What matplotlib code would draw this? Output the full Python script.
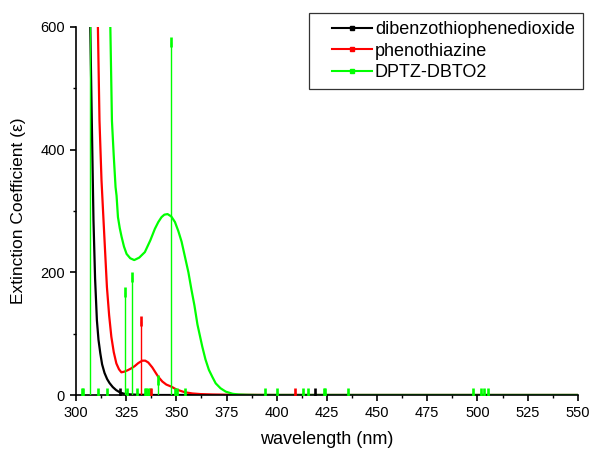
import matplotlib
matplotlib.use("Agg")
import matplotlib.pyplot as plt
from matplotlib.ticker import MultipleLocator
from matplotlib.lines import Line2D
from matplotlib.legend_handler import HandlerLine2D

plt.rcParams['font.family'] = ['Liberation Sans', 'DejaVu Sans']

# Broadened spectra (wavelength nm, extinction coefficient)
black_wl = [306.5, 307.1, 308.0, 308.7, 309.5, 310.4, 311.2, 312.1, 313.0, 314.2, 315.5,
            316.7, 318.3, 320.0, 322.0, 324.0, 327.0, 330.0, 340.0, 550.0]
black_val = [700, 600, 420, 285, 190, 122, 90, 68, 50, 36, 26,
             19.5, 13, 8, 4, 2, 1, 0.5, 0, 0]

red_wl = [310.5, 310.9, 311.7, 312.7, 313.7, 315.4, 316.5, 317.6, 318.8, 320.1, 321.4,
          322.6, 324.0, 325.5, 327.3, 329.2, 331.0, 333.0, 334.5, 336.0, 338.0, 340.9,
          343.0, 345.0, 347.6, 350.0, 354.2, 358.0, 362.0, 368.0, 375.0, 385.0, 400.0, 550.0]
red_val = [660, 600, 447, 350, 285, 176, 130, 95, 70, 51.5, 42,
           37, 38, 40, 43, 47, 52, 56, 56, 53, 45, 30,
           22, 17, 13.5, 9, 4.5, 2.5, 1.5, 0.8, 0.4, 0.2, 0, 0]

green_wl = [316.8, 317.1, 317.9, 318.8, 319.7, 320.2, 320.9, 321.8, 322.7, 323.9, 325.2,
            327.0, 329.0, 331.5, 334.3, 337.0, 339.3, 341.0, 342.6, 344.0, 345.6, 347.5,
            349.3, 351.0, 352.6, 354.3, 356.0, 357.5, 359.0, 360.5, 362.9, 364.5, 366.2,
            368.0, 369.6, 372.0, 374.6, 378.0, 381.0, 385.0, 390.0, 550.0]
green_val = [640, 600, 447, 390, 339, 325, 290, 272, 258, 242, 230,
             223, 220, 224, 233, 252, 271, 282, 290, 294, 295, 291,
             282, 267, 250, 225, 200, 172, 146, 115, 79, 58, 41,
             29, 19, 11, 5.5, 2, 0.8, 0.3, 0, 0]

# Stick spectra (transition wavelength nm, intensity)
green_stick_wl = [302.8, 303.6, 306.9, 310.9, 315.2, 324.4, 325.5, 327.8, 330.4, 334.2,
                  335.0, 335.8, 336.7, 340.8, 347.4, 349.2, 350.1, 354.2, 394.2, 399.9,
                  413.2, 415.4, 423.4, 424.1, 435.6, 497.6, 501.8, 503.4, 505.1]
green_stick_h = [3, 3, 900, 3, 3, 168, 3, 192, 3, 3,
                 3, 3, 3, 24, 576, 3, 3, 3, 4, 3,
                 3, 3, 3, 3, 4, 4, 3, 3, 3]
red_stick_wl = [332.6, 337.6, 409.2]
red_stick_h = [121, 3, 4]
black_stick_wl = [322.0, 419.2]
black_stick_h = [3, 4]

labels = ['dibenzothiophenedioxide', 'phenothiazine', 'DPTZ-DBTO2']
colors = ['#000000', '#ff0000', '#00ff00']

fig = plt.figure(figsize=(5.92, 4.5), dpi=100)
ax = fig.add_axes([0.1284, 0.1222, 0.8476, 0.8178])

curves = [(black_wl, black_val), (red_wl, red_val), (green_wl, green_val)]
for (x, y), c in zip(curves, colors):
    ax.plot(x, y, color=c, lw=1.6, zorder=2)

sticks = [(green_stick_wl, green_stick_h, colors[2]),
          (red_stick_wl, red_stick_h, colors[1]),
          (black_stick_wl, black_stick_h, colors[0])]
for x, h, c in sticks:
    ax.vlines(x, 0, h, color=c, lw=1.0, zorder=3)
    ax.plot(x, h, ls='none', marker='|', ms=7.2, mew=1.9, color=c, zorder=3)

ax.set_xlim(300, 550)
ax.set_ylim(0, 600)
ax.xaxis.set_major_locator(MultipleLocator(25))
ax.xaxis.set_minor_locator(MultipleLocator(12.5))
ax.yaxis.set_major_locator(MultipleLocator(200))
ax.yaxis.set_minor_locator(MultipleLocator(100))
for s in ['top', 'right']:
    ax.spines[s].set_visible(False)
for s in ['left', 'bottom']:
    ax.spines[s].set_linewidth(1.2)
ax.tick_params(which='major', direction='out', length=4.5, width=1.2, labelsize=10.5)
ax.tick_params(which='minor', direction='out', length=2.5, width=1.0)

ax.set_xlabel('wavelength (nm)', fontsize=13, labelpad=8)
ax.set_ylabel('Extinction Coefficient (ε)', fontsize=12.5, labelpad=10)

handles = [Line2D([0], [0], color=c, lw=1.5, marker='s', ms=2.5) for c in colors]
hmap = {h: HandlerLine2D(xpad=0.78) for h in handles}
leg = ax.legend(handles, labels, loc='upper right', bbox_to_anchor=(1.01, 1.038),
                fontsize=13, frameon=True, fancybox=False, edgecolor='black',
                handlelength=3.0, handletextpad=0.17, labelspacing=0.25,
                borderpad=0.45, numpoints=1, borderaxespad=0, handler_map=hmap)
leg.get_frame().set_linewidth(0.9)
leg.set_zorder(5)

fig.savefig('out.png', dpi=100)
